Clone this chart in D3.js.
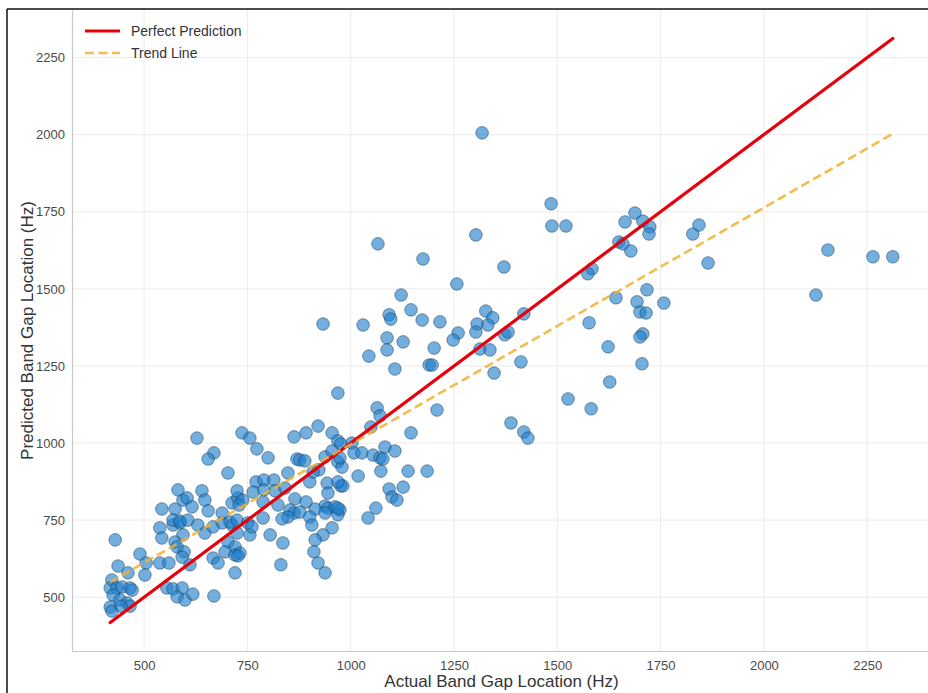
<!DOCTYPE html>
<html>
<head>
<meta charset="utf-8">
<script src="https://cdn.jsdelivr.net/npm/d3@7"></script>
<style>
  body { margin: 0; background: #fff; }
  svg { display: block; font-family: "Liberation Sans", Arial, sans-serif; }
</style>
</head>
<body>
<script>
// Valeurs (Hz)
const actual = [
  430, 437, 461, 490, 505, 502, 422, 418, 434, 447, 466, 471, 425, 442, 459, 466, 418, 422, 444,
  538, 543, 570, 587, 594, 575, 538, 560, 611, 580, 597, 592, 555, 570, 592, 580, 599, 618, 669,
  543, 575, 594, 604, 616, 582, 570, 587, 606, 630, 628, 669, 655, 703, 640, 647, 655,
  647, 667, 689, 713, 725, 703, 720, 696, 720, 732, 667, 679, 720, 689, 713, 727, 725, 708, 725,
  737, 756, 773, 800, 863, 892, 921, 955, 969, 976, 870, 877, 889, 938, 848, 901, 923, 909, 969, 979,
  1003, 1008, 1027, 1018, 771, 790, 814, 764, 790, 817, 841, 943, 976, 981, 945, 739, 730, 788, 824,
  865, 892, 938, 945, 962, 974, 969, 914, 853, 863, 848, 877, 834, 901, 906, 788, 751, 756, 805, 836,
  955, 933, 914, 911, 921, 938, 831, 727, 761, 1054, 1071, 1078, 1083, 1107, 974, 955, 1073, 1139, 1185,
  969, 1093, 1127, 1100, 1112, 969, 938, 1061, 1042, 969, 1064, 1071, 1209, 1049, 1146,
  933, 1030, 1093, 1097, 1146, 1173, 1216, 1327, 1344, 1306, 1332, 1303, 1260, 1248, 1088, 1127, 1088,
  1044, 1202, 1313, 1337, 1190, 1197, 1107, 1347, 1066, 1303, 1175, 1371, 1257, 1122, 1318,
  1485, 1487, 1521, 1688, 1664, 1707, 1724, 1722, 1649, 1659, 1678, 1828, 1843, 1865, 2155, 2264, 2312, 2126,
  1584, 1574, 1419, 1373, 1381, 1642, 1717, 1693, 1700, 1715, 1758, 1577, 1707, 1700, 1623, 1412, 1705,
  1627, 1526, 1582, 1388, 1419, 1429
];
const predicted = [
  686, 601, 579, 640, 611, 572, 556, 530, 530, 533, 530, 523, 507, 491, 481, 471, 468, 455, 471,
  725, 692, 734, 741, 702, 679, 611, 611, 605, 663, 647, 630, 530, 527, 530, 501, 491, 510, 504,
  786, 786, 815, 822, 793, 848, 750, 747, 750, 734, 1016, 968, 948, 903, 845, 815, 780,
  708, 728, 741, 734, 708, 679, 663, 647, 637, 643, 627, 611, 579, 773, 806, 822, 845, 744, 750,
  1033, 1016, 981, 952, 1020, 1033, 1055, 1033, 1007, 997, 948, 945, 942, 955, 903, 874, 913, 906, 939, 922,
  1000, 968, 968, 893, 874, 880, 880, 841, 848, 845, 854, 870, 861, 861, 838, 815, 799, 809, 799,
  819, 809, 796, 789, 793, 783, 767, 786, 783, 773, 760, 776, 754, 760, 734, 757, 741, 702, 702, 676,
  725, 702, 686, 647, 611, 579, 605, 634, 728, 961, 952, 948, 987, 974, 952, 974, 909, 909, 909,
  874, 851, 857, 825, 815, 789, 773, 789, 757, 1162, 1114, 1088, 1107, 1052, 1033,
  1386, 1383, 1416, 1402, 1432, 1399, 1393, 1428, 1406, 1386, 1383, 1360, 1357, 1334, 1341, 1328, 1302,
  1282, 1308, 1305, 1302, 1253, 1253, 1240, 1227, 1646, 1675, 1597, 1571, 1516, 1480, 2006,
  1776, 1704, 1704, 1746, 1717, 1720, 1701, 1678, 1652, 1646, 1623, 1678, 1707, 1584, 1626, 1604, 1604, 1480,
  1565, 1549, 1419, 1351, 1360, 1471, 1497, 1458, 1425, 1422, 1454, 1390, 1354, 1344, 1312, 1263, 1257,
  1198, 1143, 1111, 1065, 1036, 1016
];
const xTicks = [500, 750, 1000, 1250, 1500, 1750, 2000, 2250];
const yTicks = [500, 750, 1000, 1250, 1500, 1750, 2000, 2250];
const perfectLine = [418, 2312];     // y = x
const trendX = [418, 2312];
const trendY = [549, 2003];

var width = 928, height = 693;
var plot = {left: 72, right: 931, top: 10, bottom: 651};

var svg = d3.select("body").append("svg")
    .attr("width", width)
    .attr("height", height);

var x = d3.scaleLinear().domain([325.5, 2404.5]).range([plot.left, plot.right]);
var y = d3.scaleLinear().domain([325.5, 2404.5]).range([plot.bottom, plot.top]);

// grille
svg.append("g").selectAll("line")
    .data(xTicks).enter().append("line")
    .attr("x1", d => x(d)).attr("x2", d => x(d))
    .attr("y1", plot.top).attr("y2", plot.bottom)
    .attr("stroke", "#ebebeb").attr("stroke-width", 1);
svg.append("g").selectAll("line")
    .data(yTicks).enter().append("line")
    .attr("x1", plot.left).attr("x2", plot.right)
    .attr("y1", d => y(d)).attr("y2", d => y(d))
    .attr("stroke", "#ebebeb").attr("stroke-width", 1);

// axes
var xAxis = svg.append("g")
    .attr("transform", `translate(0, ${plot.bottom})`)
    .call(d3.axisBottom(x).tickValues(xTicks).tickSize(0).tickPadding(10).tickFormat(d3.format("d")));
var yAxis = svg.append("g")
    .attr("transform", `translate(${plot.left}, 0)`)
    .call(d3.axisLeft(y).tickValues(yTicks).tickSize(0).tickPadding(7).tickFormat(d3.format("d")));
[xAxis, yAxis].forEach(a => {
    a.select(".domain").attr("stroke", "#c8c8c8").attr("stroke-width", 1.2);
    a.selectAll("text")
        .style("font-size", "13px")
        .style("font-family", "Liberation Sans, Arial, sans-serif")
        .attr("fill", "#4a4a4a");
});

// points
var pts = actual.map((a, i) => ({a: a, p: predicted[i]}));
svg.append("g").selectAll("circle")
    .data(pts).enter().append("circle")
    .attr("cx", d => x(d.a))
    .attr("cy", d => y(d.p))
    .attr("r", 6.3)
    .attr("fill", "#1f80cc")
    .attr("fill-opacity", 0.63)
    .attr("stroke", "#13304d")
    .attr("stroke-opacity", 0.6)
    .attr("stroke-width", 0.8);

// lignes
svg.append("line")
    .attr("x1", x(perfectLine[0])).attr("y1", y(perfectLine[0]))
    .attr("x2", x(perfectLine[1])).attr("y2", y(perfectLine[1]))
    .attr("stroke", "#e8000b").attr("stroke-width", 3.2)
    .attr("stroke-linecap", "round");
svg.append("line")
    .attr("x1", x(trendX[0])).attr("y1", y(trendY[0]))
    .attr("x2", x(trendX[1])).attr("y2", y(trendY[1]))
    .attr("stroke", "#f0b030").attr("stroke-opacity", 0.85)
    .attr("stroke-width", 2.6)
    .attr("stroke-dasharray", "9,4.5");

// légende
var legend = svg.append("g");
legend.append("line")
    .attr("x1", 85).attr("x2", 120).attr("y1", 31).attr("y2", 31)
    .attr("stroke", "#e8000b").attr("stroke-width", 3.2);
legend.append("text")
    .attr("x", 131).attr("y", 36)
    .style("font-size", "14px").attr("fill", "#333")
    .text("Perfect Prediction");
legend.append("line")
    .attr("x1", 85).attr("x2", 120).attr("y1", 53).attr("y2", 53)
    .attr("stroke", "#f0b030").attr("stroke-opacity", 0.85)
    .attr("stroke-width", 2.6).attr("stroke-dasharray", "9,4.5");
legend.append("text")
    .attr("x", 131).attr("y", 58)
    .style("font-size", "14px").attr("fill", "#333")
    .text("Trend Line");

// titres des axes
svg.append("text")
    .attr("x", (plot.left + plot.right) / 2)
    .attr("y", 687)
    .attr("text-anchor", "middle")
    .style("font-size", "17px").attr("fill", "#333")
    .text("Actual Band Gap Location (Hz)");
svg.append("text")
    .attr("transform", "rotate(-90)")
    .attr("x", -(plot.top + plot.bottom) / 2)
    .attr("y", 33)
    .attr("text-anchor", "middle")
    .style("font-size", "17px").attr("fill", "#333")
    .text("Predicted Band Gap Location (Hz)");

// cadre
svg.append("line").attr("x1", 7).attr("x2", width).attr("y1", 9).attr("y2", 9)
    .attr("stroke", "#111").attr("stroke-width", 1.5);
svg.append("line").attr("x1", 7).attr("x2", 7).attr("y1", 9).attr("y2", height)
    .attr("stroke", "#111").attr("stroke-width", 1.5);
</script>
</body>
</html>
